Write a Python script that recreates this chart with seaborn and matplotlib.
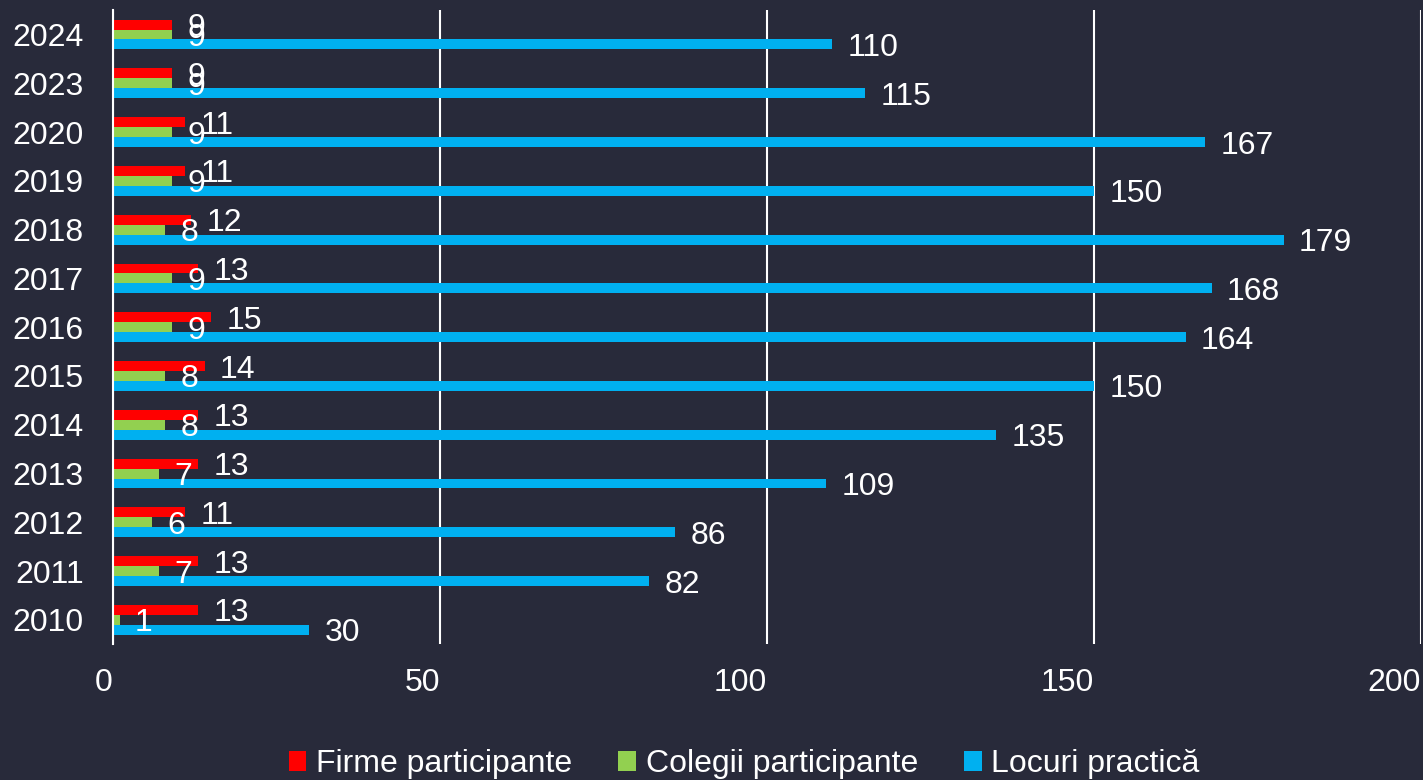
import pandas as pd
import matplotlib.pyplot as plt
import seaborn as sns

# data (top row first)
years = ['2024', '2023', '2020', '2019', '2018', '2017', '2016',
         '2015', '2014', '2013', '2012', '2011', '2010']
firme = [9, 9, 11, 11, 12, 13, 15, 14, 13, 13, 11, 13, 13]
colegii = [9, 9, 9, 9, 8, 9, 9, 8, 8, 7, 6, 7, 1]
locuri = [110, 115, 167, 150, 179, 168, 164, 150, 135, 109, 86, 82, 30]
series = ['Firme participante', 'Colegii participante', 'Locuri practică']
colors = ['#FF0000', '#92D050', '#00B0F0']
x_ticks = [0, 50, 100, 150, 200]

BG = '#282a3a'
FS = 23


def build_frame() -> pd.DataFrame:
    """Long-form table for seaborn."""
    rows = []
    for name, vals in zip(series, [firme, colegii, locuri]):
        for y, v in zip(years, vals):
            rows.append({'an': y, 'serie': name, 'valoare': v})
    return pd.DataFrame(rows)


sns.set_theme(style='dark')
plt.rcParams['font.family'] = ['Liberation Sans', 'DejaVu Sans']

df = build_frame()

fig = plt.figure(figsize=(14.23, 7.8), dpi=100, facecolor=BG)
ax = fig.add_axes([0.0794, 0.174, 0.9192, 0.813])
ax.set_facecolor(BG)

sns.barplot(data=df, x='valoare', y='an', hue='serie', order=years,
            hue_order=series, palette=colors, orient='h', width=0.61,
            saturation=1, linewidth=0, ax=ax)

for cont in ax.containers:
    labels = ax.bar_label(cont, fmt='%d', padding=11, color='white', fontsize=FS)
    for t in labels:
        t.set_va('center_baseline')

ax.set_xlim(0, 200)
ax.set_xticks(x_ticks)
ax.set_xticklabels([str(t) for t in x_ticks], ha='right')
ax.tick_params(axis='x', colors='white', labelsize=FS, length=0, pad=17)
ax.tick_params(axis='y', colors='white', labelsize=FS, length=0, pad=21)
ax.set_xlabel('')
ax.set_ylabel('')

ax.grid(axis='x', color='white', linewidth=1.5)
ax.grid(axis='y', visible=False)
ax.set_axisbelow(True)
for side in ['top', 'right', 'bottom']:
    ax.spines[side].set_visible(False)
ax.spines['left'].set_color('white')
ax.spines['left'].set_linewidth(1.5)

ax.legend(loc='center', bbox_to_anchor=(0.523, 0.02), bbox_transform=fig.transFigure,
          ncol=3, frameon=False, fontsize=FS, labelcolor='white',
          handlelength=0.55, handleheight=0.55, handletextpad=0.3,
          columnspacing=1.45)

fig.savefig('out.png', dpi=100, facecolor=BG)
